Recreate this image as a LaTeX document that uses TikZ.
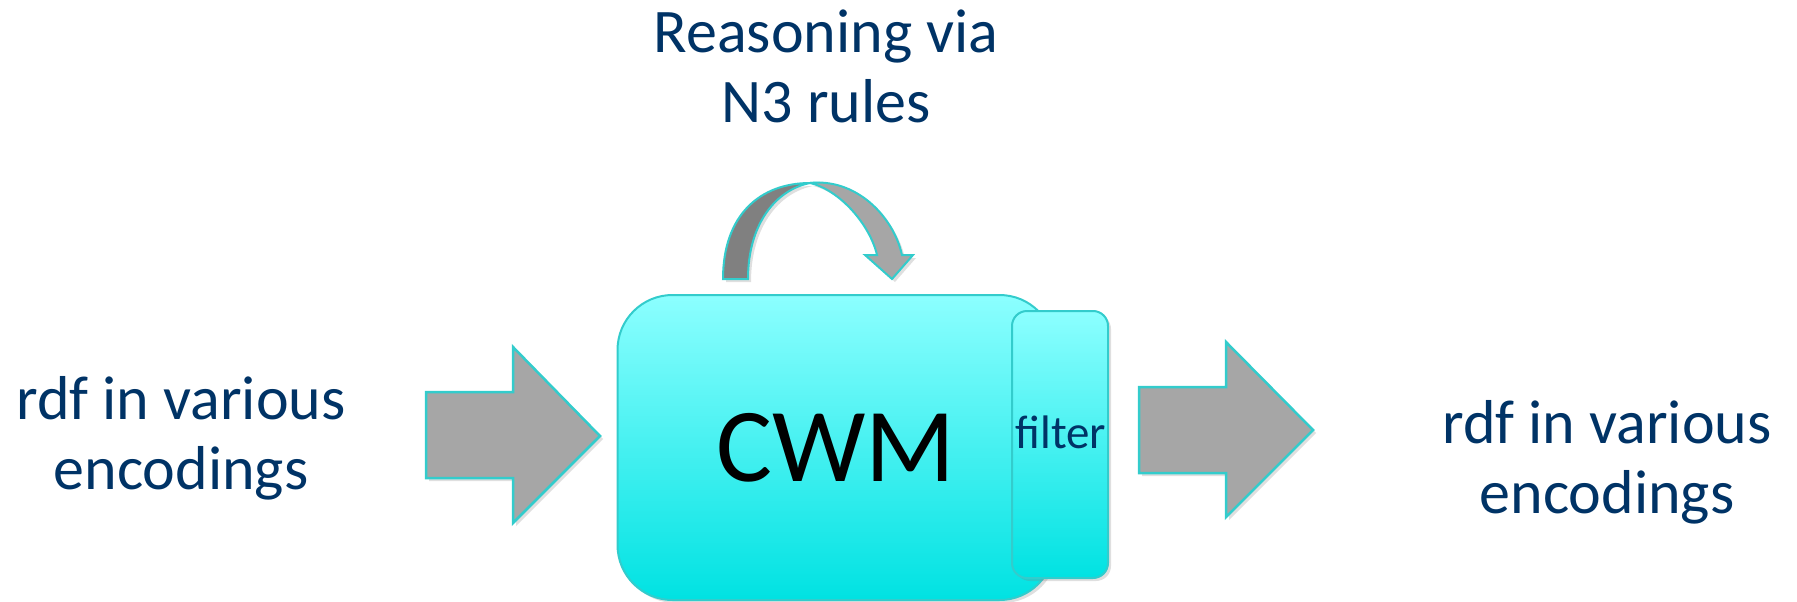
\documentclass[tikz,border=0pt]{standalone}
\usepackage{fontspec}
\setmainfont{Carlito}
\usetikzlibrary{shadows}
\definecolor{txtblue}{RGB}{0,51,102}
\definecolor{rim}{RGB}{51,204,204}
\definecolor{boxtop}{RGB}{140,255,255}
\definecolor{boxbot}{RGB}{0,226,226}
\definecolor{arrgray}{RGB}{166,166,166}
\definecolor{arrdark}{RGB}{128,128,128}
\begin{document}
\begin{tikzpicture}[x=1pt,y=-1pt,
		softshadow/.style={drop shadow={opacity=0.25,shadow xshift=3pt,shadow yshift=-3pt}},
		blockarrow/.style={fill=arrgray, draw=rim, line width=2.5pt, softshadow},
		cyanbox/.style={draw=rim, line width=2pt, top color=boxtop, bottom color=boxbot, softshadow, inner sep=0pt},
		bluetext/.style={text=txtblue, align=center, inner sep=0pt, font=\fontsize{62}{70}\selectfont}]
		
		\useasboundingbox (0,0) rectangle (1797,602);
		
		\node[cyanbox, rounded corners=55pt, minimum width=437pt, minimum height=305pt,
			font=\fontsize{105}{120}\selectfont] (cwm) at (836,447.5) {CWM};
		\node[cyanbox, rounded corners=15pt, minimum width=96pt, minimum height=267pt] (filter) at (1060,444.5) {};
		\node[anchor=base, inner sep=0pt, text=txtblue, font=\fontsize{47}{56}\selectfont] (filterlbl) at (1061,448) {filter};
		
		\draw[blockarrow] (426,392) -- (513,392) -- (513,347) -- (600,436) -- (513,523) -- (513,478) -- (426,478) -- cycle;
		\draw[blockarrow] (1139,387) -- (1226,387) -- (1226,342) -- (1313,430) -- (1226,517) -- (1226,473) -- (1139,473) -- cycle;
		
		\draw[blockarrow, line width=2pt] (877,255) -- (865,255) -- (892,279) -- (913,255) -- (902,255)
			.. controls (893,215) and (855,178) .. (810,183)
			.. controls (840,190) and (870,225) .. (877,255) -- cycle;
		\draw[fill=arrdark, draw=rim, line width=2pt, softshadow] (723,279)
			.. controls (723,215) and (760,183) .. (810,183)
			.. controls (775,190) and (748,225) .. (748,279) -- cycle;
		
		\node[bluetext, anchor=base] (reason) at (826,122) {Reasoning via\\N3 rules};
		\node[bluetext, anchor=base] (rdfin) at (181,489) {rdf in various\\encodings};
		\node[bluetext, anchor=base] (rdfout) at (1607,513) {rdf in various\\encodings};
		
\end{tikzpicture}
\end{document}
